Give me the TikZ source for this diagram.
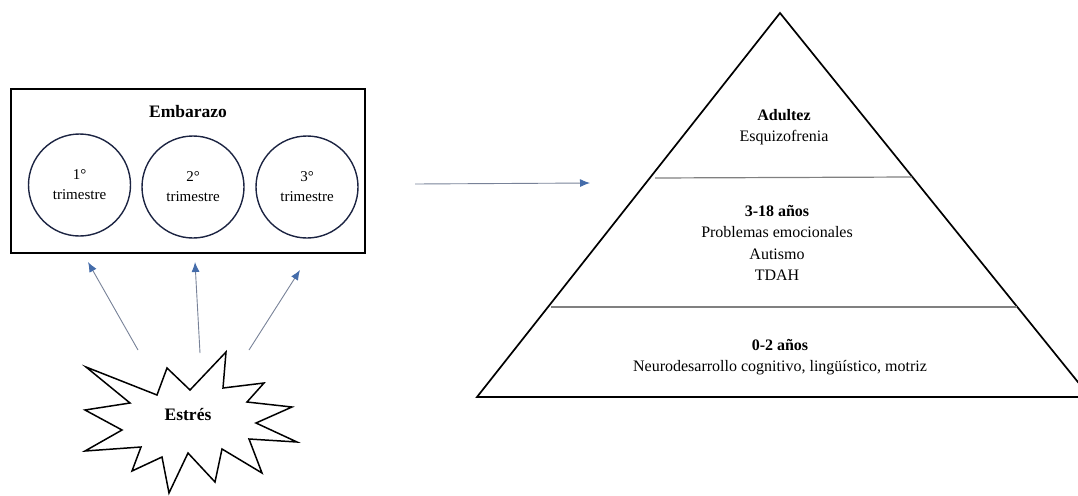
\documentclass[tikz,border=0pt]{standalone}
\usepackage{fontspec}
\IfFontExistsTF{Liberation Serif}{\setmainfont{Liberation Serif}}{\setmainfont{DejaVu Serif}}
\usetikzlibrary{positioning,arrows.meta}
\definecolor{arrowblue}{RGB}{68,108,170}
\definecolor{shaftgray}{RGB}{120,130,152}
\definecolor{ringblue}{RGB}{28,36,66}

\begin{document}
\begin{tikzpicture}[
x=1pt, y=-1pt,
every node/.style={
align=center,
inner sep=0pt
},
trim/.style={draw=ringblue, line width=1.4pt, circle, minimum size=102pt,
  font=\rmfamily\fontsize{15}{20}\selectfont},
title/.style={font=\rmfamily\fontsize{17.5}{21}\selectfont\bfseries},
body/.style={font=\rmfamily\fontsize{16}{21.5}\selectfont},
layer/.style={draw=gray, line width=1.2pt},
link/.style={->, draw=shaftgray, line width=0.9pt},
>={Latex[length=10pt,width=8pt,color=arrowblue]}
]
\clip (0,0) rectangle (1078,495);

% Embarazo
\node[draw, line width=1.8pt, minimum width=354pt, minimum height=164pt] (preg) at (188,171) {};
\node[title] (pregname) at (188,112) {Embarazo};

\node[trim] (t1) at (79.5,185) {1°\\trimestre};
\node[trim] (t2) at (193,187) {2°\\trimestre};
\node[trim] (t3) at (307,187) {3°\\trimestre};

% Estres
\draw[line width=1.5pt, fill=white]
(86,367) -- (157,395) -- (167,368) -- (190,390) -- (226,352) -- (223,388)
-- (264,383) -- (247,402) -- (292,407) -- (256,423) -- (297,442) -- (249,439)
-- (262,473) -- (222,449) -- (215,482) -- (188,453) -- (169,493) -- (162,457)
-- (132,471) -- (141,447) -- (85,451) -- (122,430) -- (85,410) -- (130,403)
-- cycle;
\node[title] (stress) at (188,415) {Estrés};

\coordinate (s1) at (138,350);
\coordinate (s2) at (200,353);
\coordinate (s3) at (249,350);
\coordinate (e1) at (88,262);
\coordinate (e2) at (195,262);
\coordinate (e3) at (300,270);

\draw[link] (s1) -- (e1);
\draw[link] (s2) -- (e2);
\draw[link] (s3) -- (e3);

% hacia la piramide
\coordinate (h1) at (415,184);
\coordinate (h2) at (590,183);
\draw[link] (h1) -- (h2);

% Piramide
\draw[line width=1.7pt] (780,13) -- (1090,397) -- (477,397) -- cycle;
\draw[layer] (655,178) -- (912,177);
\draw[layer] (551,307) -- (1017,307);

\node[body] (adult) at (784,127) {\textbf{Adultez}\\Esquizofrenia};
\node[body] (child) at (777,243) {\textbf{3-18 años}\\Problemas emocionales\\Autismo\\TDAH};
\node[body] (baby) at (780,357) {\textbf{0-2 años}\\Neurodesarrollo cognitivo, lingüístico, motriz};

\end{tikzpicture}
\end{document}
